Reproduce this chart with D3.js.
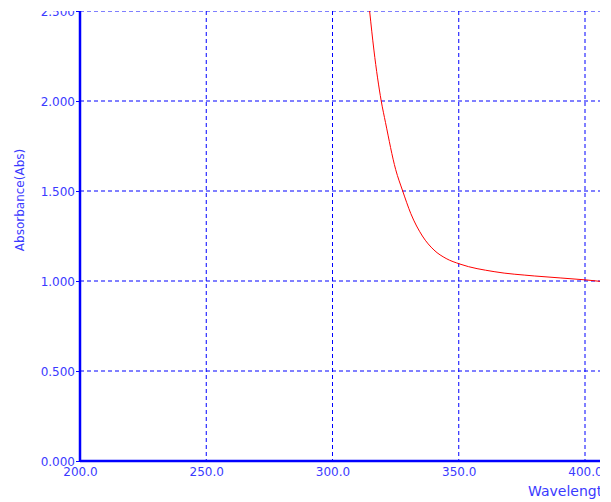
<!DOCTYPE html>
<html>
<head>
<meta charset="utf-8">
<script src="https://cdn.jsdelivr.net/npm/d3@7"></script>
<style>
  body { margin: 0; background: #fff; }
  svg { display: block; }
  .tick text { font-family: "DejaVu Sans", sans-serif; }
</style>
</head>
<body>
<div id="chart"></div>
<script>
// spectrum
const wavelength = [314.7, 316.4, 319.3, 321.0, 325.0, 327.8, 331.0, 335.6, 340.2, 345.0, 350.5, 364.0, 379.9, 400.4, 406.0];
const absorbance = [2.500, 2.283, 2.000, 1.880, 1.620, 1.500, 1.375, 1.250, 1.172, 1.125, 1.094, 1.052, 1.028, 1.006, 0.998];
const xTicks = [200, 250, 300, 350, 400];
const yTicks = [0, 0.5, 1.0, 1.5, 2.0, 2.5];

const width = 611;
const height = 502;
const margin = { left: 80, top: 11, right: 26, bottom: 41 };
const blue = '#0000ff';
const textBlue = '#3a3aff';

const svg = d3.select('#chart').append('svg')
  .attr('width', width)
  .attr('height', height);

// the original figure is cropped on the top and right
svg.append('clipPath').attr('id', 'crop')
  .append('rect').attr('x', 0).attr('y', 11).attr('width', 600).attr('height', height - 11);

const root = svg.append('g').attr('clip-path', 'url(#crop)');

const x = d3.scaleLinear().domain([200, 400]).range([margin.left, width - margin.right]);
const y = d3.scaleLinear().domain([0, 2.5]).range([height - margin.bottom, margin.top]);

// grid
root.append('g')
  .selectAll('line')
  .data(xTicks.slice(1))
  .enter()
  .append('line')
  .attr('x1', d => x(d)).attr('x2', d => x(d))
  .attr('y1', y(2.5)).attr('y2', y(0))
  .attr('stroke', blue).attr('stroke-width', 1).attr('stroke-dasharray', '4,3');

root.append('g')
  .selectAll('line')
  .data(yTicks.slice(1))
  .enter()
  .append('line')
  .attr('x1', x(200)).attr('x2', 600)
  .attr('y1', d => y(d)).attr('y2', d => y(d))
  .attr('stroke', blue).attr('stroke-width', 1).attr('stroke-dasharray', '4,3');

// axes
const xAxis = d3.axisBottom(x).tickValues(xTicks).tickSize(0).tickPadding(6).tickFormat(d3.format('.1f'));
const yAxis = d3.axisLeft(y).tickValues(yTicks).tickSize(4).tickPadding(1).tickFormat(d3.format('.3f'));

const gx = root.append('g')
  .attr('transform', `translate(0,${y(0)})`)
  .call(xAxis);
gx.select('.domain').remove();
gx.selectAll('text').attr('fill', textBlue).style('font-size', '12px');

const gy = root.append('g')
  .attr('transform', `translate(${x(200)},0)`)
  .call(yAxis);
gy.select('.domain').remove();
gy.selectAll('line').attr('stroke', blue);
gy.selectAll('text').attr('fill', textBlue).style('font-size', '12px').attr('dy', '0.4em');

root.append('line')
  .attr('x1', x(200)).attr('x2', 600)
  .attr('y1', y(0)).attr('y2', y(0))
  .attr('stroke', blue).attr('stroke-width', 2.5);
root.append('line')
  .attr('x1', x(200)).attr('x2', x(200))
  .attr('y1', y(2.5)).attr('y2', y(0) + 1)
  .attr('stroke', blue).attr('stroke-width', 2.5);

// curve
const line = d3.line()
  .x((d, i) => x(wavelength[i]))
  .y(d => y(d))
  .curve(d3.curveMonotoneX);

root.append('path')
  .attr('d', line(absorbance))
  .attr('fill', 'none')
  .attr('stroke', '#ff0000')
  .attr('stroke-width', 1);

// titles
root.append('text')
  .attr('x', 528).attr('y', 496)
  .attr('fill', textBlue)
  .style('font-family', '"DejaVu Sans", sans-serif')
  .style('font-size', '14px')
  .text('Wavelength(nm)');

root.append('text')
  .attr('transform', `translate(24,${y(1.45)}) rotate(-90)`)
  .attr('text-anchor', 'middle')
  .attr('fill', textBlue)
  .style('font-family', '"DejaVu Sans", sans-serif')
  .style('font-size', '12px')
  .text('Absorbance(Abs)');
</script>
</body>
</html>
